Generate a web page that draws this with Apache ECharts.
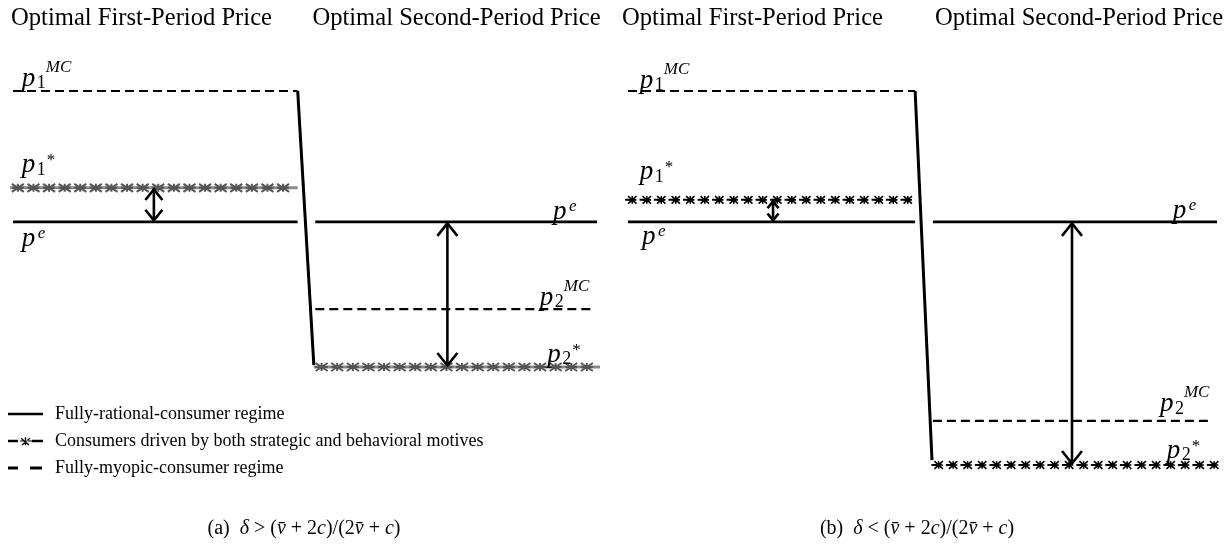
<!DOCTYPE html>
<html><head><meta charset="utf-8">
<script src="https://cdn.jsdelivr.net/npm/echarts@6/dist/echarts.min.js"></script>
<style>html,body{margin:0;padding:0;background:#fff}#c{width:1225px;height:546px}</style>
</head><body><div id="c"></div>
<script>
// ---------------- data ----------------
const headerLabels = ['Optimal First-Period Price', 'Optimal Second-Period Price'];
const regimeNames = ['Fully-rational-consumer regime',
  'Consumers driven by both strategic and behavioral motives',
  'Fully-myopic-consumer regime'];
const captionTags = ['(a)', '(b)'];
const captionSigns = ['>', '<'];
// price levels on a relative scale: p1MC, p1*, pe, p2MC, p2*
const levelsA = [10, 7.41, 6.50, 4.17, 2.62];
const levelsB = [10, 7.09, 6.50, 1.18, 0.00];
// time spans (0..1 first period, 1..2 second period)
const spanP1MC = [0, 0.97];
const spanP1Star = [-0.01, 0.97];
const spanPe1 = [0, 0.97];
const spanPe2 = [1.03, 1.99];
const spanP2MC = [1.03, 1.97];
const spanP2Star = [1.025, 2.0];
// price drop between periods: [x at bottom, level at bottom]
const dropBottomA = [1.025, 2.67];
const dropBottomB = [1.027, 0.13];
// double arrows: x positions (first, second period)
const arrowXA = [0.48, 1.48];
const arrowXB = [0.49, 1.50];
// label texts: [base, subscript, superscript]
const labelTexts = [['p', '1', 'MC'], ['p', '1', '*'], ['p', '', 'e'], ['p', '', 'e'], ['p', '2', 'MC'], ['p', '2', '*']];

// ---------------- layout (styles / placement) ----------------
const SERIF = '"Liberation Serif", "Times New Roman", serif';
// label anchors: [x in data units, level index, baseline offset px]
const labelPlaceA = [[0.03, 0, -8], [0.03, 1, -18], [0.03, 2, 22], [1.84, 2, -5], [1.795, 3, -7], [1.82, 4, -8]];
const labelPlaceB = [[0.04, 0, -6], [0.04, 1, -23], [0.047, 2, 20], [1.84, 2, -6], [1.797, 3, -12], [1.82, 4, -10]];

const chart = echarts.init(document.getElementById('c'));

function solidRender(params, api) {
  const a = api.coord([api.value(0), api.value(2)]);
  const b = api.coord([api.value(1), api.value(3)]);
  const slant = api.value(2) !== api.value(3);
  return {type: 'line', shape: {x1: a[0], y1: a[1], x2: b[0], y2: b[1]},
    style: {stroke: '#000', lineWidth: slant ? 3 : 2.6}};
}
function dashedRender(params, api) {
  const a = api.coord([api.value(0), api.value(2)]);
  const b = api.coord([api.value(1), api.value(3)]);
  return {type: 'line', shape: {x1: a[0], y1: a[1], x2: b[0], y2: b[1]},
    style: {stroke: '#000', lineWidth: 2.2, lineDash: [9, 5]}};
}
function starRender(panel) {
  const gray = panel === 0;
  const step = gray ? 15.6 : 14.5;
  return function (params, api) {
    const a = api.coord([api.value(0), api.value(2)]);
    const b = api.coord([api.value(1), api.value(3)]);
    const y = a[1];
    let d = '';
    const hw = gray ? 6 : 4.2, hh = gray ? 4 : 3.8;
    for (let x = a[0] + step / 2; x <= b[0] - 2; x += step) {
      d += `M${x - hw},${y - hh}L${x + hw},${y + hh}M${x - hw},${y + hh}L${x + hw},${y - hh}`;
      d += `M${x},${y - hh}L${x},${y + hh}M${x - hw},${y}L${x + hw},${y}`;
    }
    return {type: 'group', children: [
      {type: 'line', shape: {x1: a[0], y1: y, x2: b[0], y2: y},
        style: gray ? {stroke: '#8a8a8a', lineWidth: 3} : {stroke: '#000', lineWidth: 2, lineDash: [6, 8.5]}},
      {type: 'path', shape: {pathData: d},
        style: {stroke: gray ? '#555' : '#000', lineWidth: gray ? 2 : 1.6, fill: null}}
    ]};
  };
}
function arrowRender(params, api) {
  const t = api.coord([api.value(0), api.value(1)]);
  const b = api.coord([api.value(0), api.value(2)]);
  const len = b[1] - t[1];
  const w = Math.min(10, len * 0.25), h = w * 1.25;
  const x = t[0], y1 = t[1] + 1.5, y2 = b[1] - 1.5;
  return {type: 'group', children: [
    {type: 'line', shape: {x1: x, y1: y1, x2: x, y2: y2}, style: {stroke: '#000', lineWidth: 2.6}},
    {type: 'polyline', shape: {points: [[x - w, y1 + h], [x, y1], [x + w, y1 + h]]}, style: {stroke: '#000', lineWidth: 2.6, fill: null}},
    {type: 'polyline', shape: {points: [[x - w, y2 - h], [x, y2], [x + w, y2 - h]]}, style: {stroke: '#000', lineWidth: 2.6, fill: null}}
  ]};
}
// text placed by alphabetic baseline (bottom-aligned box, descent ~0.33em)
function txt(x, baseline, text, font, size) {
  return {type: 'text', x: x, y: baseline + 0.33 * size,
    style: {text: text, font: font + ' ' + size + 'px ' + SERIF, fill: '#000', verticalAlign: 'bottom', align: 'left'}};
}
function labelRender(params, api) {
  const p = api.coord([api.value(0), api.value(1)]);
  const t = labelTexts[api.value(2)];
  const x = p[0], base = p[1] + api.value(3);
  const kids = [txt(x, base, t[0], 'italic', 27)];
  if (t[1]) kids.push(txt(x + 15, base + 3, t[1], 'normal', 18));
  if (t[2] === 'MC') kids.push(txt(x + 24, base - 13, 'MC', 'italic', 17));
  else if (t[2] === 'e') kids.push(txt(x + 16, base - 7, 'e', 'italic', 17));
  else if (t[2] === '*') kids.push(txt(x + 25, base - 6, '*', 'normal', 17));
  return {type: 'group', children: kids};
}

const grids = [
  {left: 13, top: 91, width: 587, height: 374},
  {left: 628, top: 91, width: 592, height: 374}
];
const xAxes = grids.map((g, i) => ({type: 'value', gridIndex: i, min: 0, max: 2, show: false}));
const yAxes = grids.map((g, i) => ({type: 'value', gridIndex: i, min: 0, max: 10, show: false}));

const series = [];
[[levelsA, dropBottomA, arrowXA, labelPlaceA], [levelsB, dropBottomB, arrowXB, labelPlaceB]].forEach(([lv, drop, ax, lp], i) => {
  const common = {type: 'custom', xAxisIndex: i, yAxisIndex: i, silent: true, itemStyle: {color: '#000'}};
  series.push(Object.assign({}, common, {name: regimeNames[0], renderItem: solidRender, data: [
    [spanPe1[0], spanPe1[1], lv[2], lv[2]],
    [spanPe2[0], spanPe2[1], lv[2], lv[2]],
    [spanP1MC[1], drop[0], lv[0], drop[1]]
  ]}));
  series.push(Object.assign({}, common, {name: regimeNames[1], renderItem: starRender(i), data: [
    [spanP1Star[0], spanP1Star[1], lv[1], lv[1]],
    [spanP2Star[0], spanP2Star[1], lv[4], lv[4]]
  ]}));
  series.push(Object.assign({}, common, {name: regimeNames[2], renderItem: dashedRender, data: [
    [spanP1MC[0], spanP1MC[1], lv[0], lv[0]],
    [spanP2MC[0], spanP2MC[1], lv[3], lv[3]]
  ]}));
  series.push(Object.assign({}, common, {name: 'arrows', renderItem: arrowRender, data: [
    [ax[0], lv[1], lv[2]],
    [ax[1], lv[2], lv[4]]
  ]}));
  series.push(Object.assign({}, common, {name: 'labels', renderItem: labelRender,
    data: lp.map((q, k) => [q[0], lv[q[1]], k, q[2]])}));
});

const anchors = 'M0,0h0.01v0.01h-0.01ZM40,0h0.01v0.01h-0.01ZM0,14h0.01v0.01h-0.01ZM40,14h0.01v0.01h-0.01Z';
const iconSolid = 'path://' + anchors + 'M0,5.7H35V8.3H0Z';
const iconStar = 'path://' + anchors + 'M0,5.8H10V8.2H0ZM24,5.8H35V8.2H24Z' +
  'M13.5,3.8L21.5,10.6L20.5,11.4L12.5,4.6ZM21.5,3.8L13.5,10.6L14.5,11.4L22.5,4.6ZM16.8,3.2H18.2V11.2H16.8ZM12,6.4H24V7.6H12Z';
const iconDash = 'path://' + anchors + 'M0,5.6H10V8.4H0ZM22,5.6H34V8.4H22Z';

const hStyle = {fontFamily: SERIF, fontSize: 24.6, fontWeight: 'normal', color: '#000'};
const titles = [
  {text: headerLabels[0], left: 141.5, top: 6},
  {text: headerLabels[1], left: 456.5, top: 6},
  {text: headerLabels[0], left: 752.5, top: 6},
  {text: headerLabels[1], left: 1079, top: 6},
].map(t => Object.assign(t, {textAlign: 'center', padding: 0, textStyle: hStyle}));
const capStyle = {fontFamily: SERIF, fontSize: 20, fontWeight: 'normal', color: '#000',
  rich: {i: {fontFamily: SERIF, fontSize: 20, fontStyle: 'italic', color: '#000'}}};
[304, 917].forEach((cx, i) => {
  titles.push({text: captionTags[i] + '  {i|δ} ' + captionSigns[i] + ' ({i|v\u0304} + 2{i|c})/(2{i|v\u0304} + {i|c})',
    left: cx, top: 519, textAlign: 'center', padding: 0, textStyle: capStyle});
});

chart.setOption({
  animation: false,
  backgroundColor: '#fff',
  title: titles,
  grid: grids,
  xAxis: xAxes,
  yAxis: yAxes,
  legend: {
    orient: 'vertical', left: 8, top: 405, padding: 0, itemWidth: 40, itemHeight: 14, itemGap: 9,
    selectedMode: false,
    textStyle: {fontFamily: SERIF, fontSize: 18, color: '#000', padding: [0, 0, 0, 2]},
    data: [
      {name: regimeNames[0], icon: iconSolid},
      {name: regimeNames[1], icon: iconStar},
      {name: regimeNames[2], icon: iconDash}
    ]
  },
  series: series
});
</script></body></html>
